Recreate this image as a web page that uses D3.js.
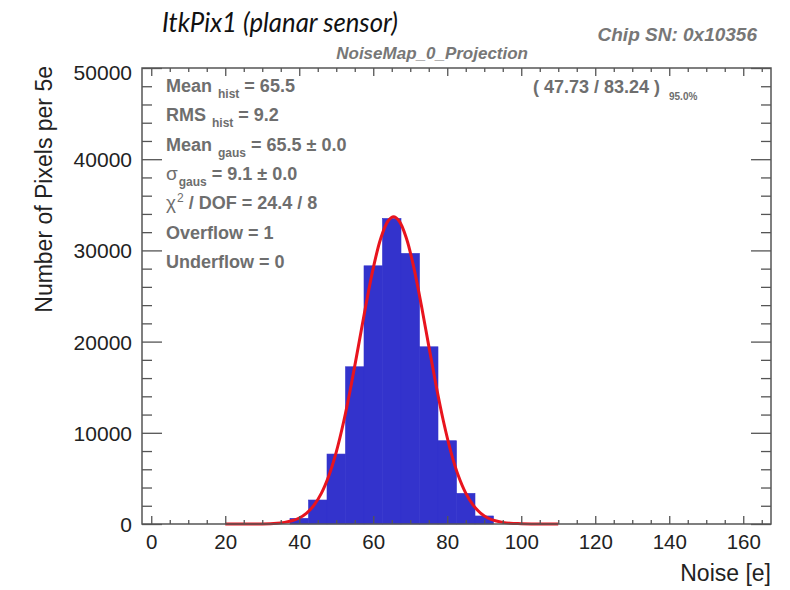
<!DOCTYPE html>
<html>
<head>
<meta charset="utf-8">
<script src="https://cdn.jsdelivr.net/npm/d3@7"></script>
<style>
  html, body { margin: 0; padding: 0; background: #fff; }
  svg { display: block; }
</style>
</head>
<body>
<svg id="chart" width="790" height="590"></svg>
<script>
// ---------------- data ----------------
const binCenters = [40, 45, 50, 55, 60, 65, 70, 75, 80, 85, 90];
const binCounts  = [620, 2630, 7670, 17240, 28310, 33500, 29670, 19430, 9130, 3360, 880];
const binWidth = 5;

const fitX = [20, 25, 30, 34, 36, 38, 40, 42, 44, 46, 48, 50, 52, 54, 56, 58, 60, 62, 64, 65.5,
              67, 69, 71, 73, 75, 77, 79, 81, 83, 85, 87, 89, 91, 93, 95, 97, 100, 105, 110];
const fitY = [0, 0, 0, 80, 180, 350, 660, 1200, 2070, 3390, 5290, 7890, 11210, 15160, 19530, 23980, 28050, 31280, 33220, 33680,
              33220, 31280, 28050, 23980, 19530, 15160, 11210, 7890, 5290, 3390, 2070, 1200, 660, 350, 180, 80, 40, 0, 0];

const xTickValues = [0, 20, 40, 60, 80, 100, 120, 140, 160];
const yTickValues = [0, 10000, 20000, 30000, 40000, 50000];
const xDomain = [-2.5, 167.5];
const yDomain = [0, 50000];

const statsLabels = ["Mean", "RMS", "Mean", "σ", "χ", "Overflow", "Underflow"];
const statsSubs   = ["hist", "hist", "gaus", "gaus", "", "", ""];
const statsValues = [" = 65.5", " = 9.2", " = 65.5 ± 0.0", " = 9.1 ± 0.0", " / DOF = 24.4 / 8", " = 1", " = 0"];

const titleText = "NoiseMap_0_Projection";
const chipText = "Chip SN: 0x10356";
const headerText = "ItkPix1 (planar sensor)";
const xTitle = "Noise [e]";
const yTitle = "Number of Pixels per 5e";
const intervalText = "( 47.73 / 83.24 )";
const intervalSub = "95.0%";

// ---------------- layout ----------------
const L = 142, R = 771, T = 68, B = 524;
const svg = d3.select("#chart");
const x = d3.scaleLinear().domain(xDomain).range([L, R]);
const y = d3.scaleLinear().domain(yDomain).range([B, T]);

const sans = "'Liberation Sans', Arial, Helvetica, sans-serif";
const axisColor = "#555";
const grayText = "#6e6e6e";

// histogram bars
svg.append("g").selectAll("rect")
  .data(binCenters.map((c, i) => ({c, v: binCounts[i]})))
  .join("rect")
  .attr("x", d => x(d.c - binWidth / 2))
  .attr("width", d => x(d.c + binWidth / 2) - x(d.c - binWidth / 2))
  .attr("y", d => y(d.v))
  .attr("height", d => y(0) - y(d.v))
  .attr("fill", "#3333cc")
  .attr("stroke", "#3333cc")
  .attr("stroke-width", 0.6);

// fit curve
const line = d3.line()
  .x(d => x(d[0]))
  .y(d => y(d[1]))
  .curve(d3.curveCatmullRom.alpha(0.5));
svg.append("path")
  .datum(fitX.map((v, i) => [v, fitY[i]]))
  .attr("d", line)
  .attr("fill", "none")
  .attr("stroke", "#e8141e")
  .attr("stroke-width", 3)
  .attr("stroke-linejoin", "round");

// axes
function styleAxis(g) {
  g.select(".domain").remove();
  g.selectAll(".tick line").attr("stroke", axisColor).attr("stroke-width", 1.3);
}
const xMinor = d3.range(0, 167.5, 5).filter(v => v % 20 !== 0);
const yMinor = d3.range(0, 50001, 2000).filter(v => v % 10000 !== 0);

// bottom
svg.append("g").attr("transform", `translate(0,${B})`)
  .call(d3.axisBottom(x).tickValues(xMinor).tickFormat("").tickSizeInner(-4).tickSizeOuter(0))
  .call(styleAxis);
const bx = svg.append("g").attr("transform", `translate(0,${B})`)
  .call(d3.axisBottom(x).tickValues(xTickValues).tickFormat(d3.format("d")).tickSizeInner(-8).tickSizeOuter(0).tickPadding(10))
  .call(styleAxis);
bx.selectAll("text").attr("font-family", sans).attr("font-size", 20.5).attr("fill", "#222");
// top
svg.append("g").attr("transform", `translate(0,${T})`)
  .call(d3.axisTop(x).tickValues(xMinor).tickFormat("").tickSizeInner(-4).tickSizeOuter(0))
  .call(styleAxis);
svg.append("g").attr("transform", `translate(0,${T})`)
  .call(d3.axisTop(x).tickValues(xTickValues).tickFormat("").tickSizeInner(-8).tickSizeOuter(0))
  .call(styleAxis);
// left
svg.append("g").attr("transform", `translate(${L},0)`)
  .call(d3.axisLeft(y).tickValues(yMinor).tickFormat("").tickSizeInner(-10).tickSizeOuter(0))
  .call(styleAxis);
const ly = svg.append("g").attr("transform", `translate(${L},0)`)
  .call(d3.axisLeft(y).tickValues(yTickValues).tickFormat(d3.format("d")).tickSizeInner(-20).tickSizeOuter(0).tickPadding(10))
  .call(styleAxis);
ly.selectAll("text").attr("font-family", sans).attr("font-size", 21).attr("fill", "#222")
  .attr("dy", d => d === 50000 ? "0.55em" : "0.36em");
// right
svg.append("g").attr("transform", `translate(${R},0)`)
  .call(d3.axisRight(y).tickValues(yMinor).tickFormat("").tickSizeInner(-10).tickSizeOuter(0))
  .call(styleAxis);
svg.append("g").attr("transform", `translate(${R},0)`)
  .call(d3.axisRight(y).tickValues(yTickValues).tickFormat("").tickSizeInner(-20).tickSizeOuter(0))
  .call(styleAxis);

// frame
svg.append("rect")
  .attr("x", L).attr("y", T).attr("width", R - L).attr("height", B - T)
  .attr("fill", "none").attr("stroke", axisColor).attr("stroke-width", 1.5);

// axis titles
svg.append("text")
  .attr("x", R).attr("y", 581)
  .attr("text-anchor", "end")
  .attr("font-family", sans).attr("font-size", 23).attr("fill", "#222")
  .text(xTitle);
svg.append("text")
  .attr("transform", `translate(52,${T - 2}) rotate(-90)`)
  .attr("text-anchor", "end")
  .attr("font-family", sans).attr("font-size", 23).attr("fill", "#222")
  .text(yTitle);

// stats box text
const statsG = svg.append("g")
  .attr("font-family", sans).attr("font-weight", "bold").attr("fill", grayText);
statsLabels.forEach((lab, i) => {
  const t = statsG.append("text")
    .attr("x", 166).attr("y", 92 + 29.3 * i)
    .attr("font-size", 18);
  const greek = (lab === "σ" || lab === "χ");
  t.append("tspan").text(lab).attr("font-weight", greek ? "normal" : "bold").attr("font-size", greek ? 19 : 18);
  if (statsSubs[i]) {
    t.append("tspan").text(statsSubs[i]).attr("font-size", 12).attr("dx", greek ? 1 : 6).attr("dy", 6);
    t.append("tspan").text(statsValues[i]).attr("dy", -6);
  } else if (lab === "χ") {
    t.append("tspan").text("2").attr("font-size", 12).attr("dx", 1).attr("dy", -7).attr("font-weight", "normal");
    t.append("tspan").text(statsValues[i]).attr("dy", 7);
  } else {
    t.append("tspan").text(statsValues[i]);
  }
});

// interval text
svg.append("text")
  .attr("x", 533).attr("y", 93)
  .attr("font-family", sans).attr("font-weight", "bold").attr("font-size", 18).attr("fill", grayText)
  .text(intervalText);
svg.append("text")
  .attr("x", 669).attr("y", 100)
  .attr("font-family", sans).attr("font-weight", "bold").attr("font-size", 10).attr("fill", grayText)
  .text(intervalSub);

// titles
svg.append("text")
  .attr("x", 528).attr("y", 59)
  .attr("text-anchor", "end")
  .attr("font-family", sans).attr("font-weight", "bold").attr("font-style", "italic")
  .attr("font-size", 17).attr("fill", "#777")
  .text(titleText);
svg.append("text")
  .attr("x", 757).attr("y", 41)
  .attr("text-anchor", "end")
  .attr("font-family", sans).attr("font-weight", "bold").attr("font-style", "italic")
  .attr("font-size", 19).attr("fill", "#777")
  .text(chipText);
svg.append("text")
  .attr("x", 162).attr("y", 32)
  .attr("font-family", "Lato, 'Open Sans', sans-serif").attr("font-style", "italic")
  .attr("font-size", 27).attr("fill", "#111")
  .attr("textLength", 236).attr("lengthAdjust", "spacingAndGlyphs")
  .text(headerText);
</script>
</body>
</html>
